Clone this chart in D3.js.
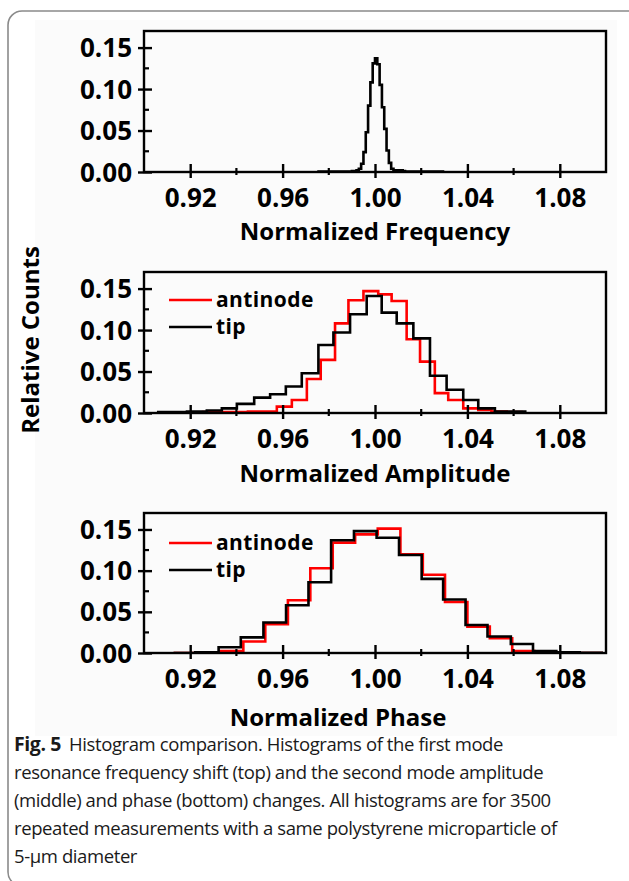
<!DOCTYPE html>
<html>
<head>
<meta charset="utf-8">
<script src="https://cdn.jsdelivr.net/npm/d3@7"></script>
<style>
  body { margin: 0; background: #fff; }
  svg { display: block; }
</style>
</head>
<body>
<div id="chart-area"></div>
<script>
// tick labels
const xTicks = [0.92, 0.96, 1.00, 1.04, 1.08]
const xMinor = [0.94, 0.98, 1.02, 1.06]
const yTicks = [0.00, 0.05, 0.10, 0.15]
const yMinor = [0.025, 0.075, 0.125]

// frequency histogram (first mode), bin edges + relative counts
const freqEdges = [0.975, 0.990, 0.991, 0.992, 0.993, 0.994, 0.995, 0.996, 0.997, 0.998, 0.999, 1.000,
  1.001, 1.002, 1.003, 1.004, 1.005, 1.006, 1.007, 1.008, 1.009, 1.010, 1.011, 1.012, 1.013, 1.030]
const freqCounts = [0.0005, 0.001, 0.001, 0.002, 0.004, 0.010, 0.024, 0.048, 0.080, 0.108, 0.131, 0.137,
  0.130, 0.105, 0.078, 0.052, 0.026, 0.011, 0.004, 0.002, 0.002, 0.001, 0.002, 0.001, 0.0005]

// amplitude histograms (second mode)
const ampAntinodeEdges = [0.925, 0.945, 0.9575, 0.964, 0.9705, 0.9765, 0.9827, 0.9885, 0.995, 1.0014, 1.0072,
  1.0137, 1.0195, 1.0259, 1.0317, 1.0382, 1.0447, 1.0504, 1.057, 1.064]
const ampAntinode = [0.001, 0.0016, 0.0077, 0.0157, 0.041, 0.064, 0.108, 0.136, 0.147, 0.143, 0.135,
  0.089, 0.062, 0.024, 0.0157, 0.0056, 0.0036, 0.0016, 0.001]
const ampTipEdges = [0.9056, 0.9186, 0.9272, 0.9337, 0.9402, 0.9477, 0.9546, 0.9614, 0.9683, 0.9755, 0.982,
  0.9892, 0.9964, 1.0029, 1.0094, 1.0166, 1.0238, 1.031, 1.0382, 1.0447, 1.0519, 1.0656]
const ampTip = [0.001, 0.0016, 0.003, 0.0056, 0.011, 0.0185, 0.0226, 0.032, 0.048, 0.082, 0.097,
  0.119, 0.141, 0.121, 0.108, 0.090, 0.045, 0.028, 0.0157, 0.0056, 0.0016]

// phase histograms (second mode)
const phaseAntinodeEdges = [0.9128, 0.9229, 0.933, 0.943, 0.9525, 0.9623, 0.972, 0.9817, 0.9914, 1.0012,
  1.011, 1.0207, 1.0303, 1.04, 1.0497, 1.0594, 1.069, 1.0787, 1.0987]
const phaseAntinode = [0.0, 0.0008, 0.0025, 0.014, 0.035, 0.064, 0.103, 0.134, 0.144, 0.151,
  0.120, 0.095, 0.062, 0.032, 0.018, 0.0025, 0.0008, 0.0]
const phaseTipEdges = [0.9128, 0.9222, 0.9323, 0.9419, 0.9517, 0.9615, 0.9712, 0.981, 0.9909, 1.0007,
  1.0104, 1.0202, 1.0295, 1.0392, 1.0487, 1.0588, 1.0684, 1.0785, 1.0886, 1.0987]
const phaseTip = [0.0, 0.001, 0.007, 0.019, 0.037, 0.058, 0.086, 0.137, 0.148, 0.140,
  0.119, 0.090, 0.065, 0.034, 0.020, 0.011, 0.0025, 0.001, 0.0003]

const legendNames = ["antinode", "tip"]
const captionLines = [
  "resonance frequency shift (top) and the second mode amplitude",
  "(middle) and phase (bottom) changes. All histograms are for 3500",
  "repeated measurements with a same polystyrene microparticle of",
  "5-\u00b5m diameter"
]

const svgWidth = 629
const svgHeight = 881
const font = "'Open Sans', 'DejaVu Sans', sans-serif"
const red = "#ff0000"

const svg = d3.select("#chart-area")
  .append("svg")
  .attr("width", svgWidth)
  .attr("height", svgHeight)

// outer rounded frame + faint figure background
svg.append("rect")
  .attr("x", 35).attr("y", 20).attr("width", 582).attr("height", 716)
  .attr("fill", "#fbfbfb")
svg.append("rect")
  .attr("x", 8).attr("y", 11).attr("width", 660).attr("height", 875)
  .attr("rx", 14).attr("fill", "none")
  .attr("stroke", "#8a8a8a").attr("stroke-width", 1.6)

const panels = [
  { top: 31, bottom: 172, title: "Normalized Frequency", titleX: 375, titleY: 240,
    series: [{ edges: freqEdges, vals: freqCounts, color: "#000" }], legend: false },
  { top: 272, bottom: 413, title: "Normalized Amplitude", titleX: 375, titleY: 482,
    series: [{ edges: ampAntinodeEdges, vals: ampAntinode, color: red },
             { edges: ampTipEdges, vals: ampTip, color: "#000" }], legend: true, legendY: 300 },
  { top: 513, bottom: 653, title: "Normalized Phase", titleX: 338, titleY: 726,
    series: [{ edges: phaseAntinodeEdges, vals: phaseAntinode, color: red },
             { edges: phaseTipEdges, vals: phaseTip, color: "#000" }], legend: true, legendY: 543 }
]

const left = 144
const right = 606

panels.forEach((p, pi) => {
  const xScale = d3.scaleLinear().domain([0.90, 1.10]).range([left, right])
  const yScale = d3.scaleLinear().domain([0, 0.17]).range([p.bottom, p.top])

  const g = svg.append("g")

  g.append("clipPath").attr("id", "clip" + pi)
    .append("rect")
    .attr("x", left).attr("y", p.top)
    .attr("width", right - left).attr("height", p.bottom - p.top)

  const line = d3.line()
    .x(d => xScale(d[0]))
    .y(d => yScale(d[1]))
    .curve(d3.curveStepAfter)

  p.series.forEach(s => {
    const pts = s.edges.map((e, i) => [e, s.vals[Math.min(i, s.vals.length - 1)]])
    g.append("path")
      .attr("clip-path", `url(#clip${pi})`)
      .attr("d", line(pts))
      .attr("fill", "none")
      .attr("stroke", s.color)
      .attr("stroke-width", 2.6)
      .attr("stroke-linejoin", "miter")
  })

  // box
  g.append("rect")
    .attr("x", left).attr("y", p.top)
    .attr("width", right - left).attr("height", p.bottom - p.top)
    .attr("fill", "none").attr("stroke", "#000").attr("stroke-width", 2.4)

  // x axis
  const xAxis = g.append("g")
    .attr("transform", `translate(0,${p.bottom})`)
    .call(d3.axisBottom(xScale).tickValues(xTicks).tickFormat(d3.format(".2f")))
  xAxis.select(".domain").remove()
  xAxis.selectAll(".tick line").attr("y1", -8).attr("y2", 6).attr("stroke-width", 2.4)
  xAxis.selectAll(".tick text")
    .attr("y", 26).attr("dy", "0.35em")
    .attr("font-family", font).attr("font-weight", 700).attr("font-size", 26).attr("fill", "#000")
  g.append("g").selectAll("line")
    .data(xMinor).join("line")
    .attr("x1", d => xScale(d)).attr("x2", d => xScale(d))
    .attr("y1", p.bottom - 4).attr("y2", p.bottom + 3)
    .attr("stroke", "#000").attr("stroke-width", 2.2)

  // y axis
  const yAxis = g.append("g")
    .attr("transform", `translate(${left},0)`)
    .call(d3.axisLeft(yScale).tickValues(yTicks).tickFormat(d3.format(".2f")))
  yAxis.select(".domain").remove()
  yAxis.selectAll(".tick line").attr("x1", -6).attr("x2", 8).attr("stroke-width", 2.4)
  yAxis.selectAll(".tick text")
    .attr("x", -12).attr("dy", "0.35em")
    .attr("font-family", font).attr("font-weight", 700).attr("font-size", 26).attr("fill", "#000")
  g.append("g").selectAll("line")
    .data(yMinor).join("line")
    .attr("x1", left - 1).attr("x2", left + 5)
    .attr("y1", d => yScale(d)).attr("y2", d => yScale(d))
    .attr("stroke", "#000").attr("stroke-width", 2.2)

  // axis title
  g.append("text")
    .attr("x", p.titleX).attr("y", p.titleY)
    .attr("text-anchor", "middle")
    .attr("font-family", font).attr("font-weight", 700).attr("font-size", 24)
    .text(p.title)

  // legend
  if (p.legend) {
    const lg = g.append("g")
    p.series.forEach((s, i) => {
      const y = p.legendY + i * 27
      lg.append("line")
        .attr("x1", 169).attr("x2", 212).attr("y1", y).attr("y2", y)
        .attr("stroke", s.color).attr("stroke-width", 2.6)
      lg.append("text")
        .attr("x", 216).attr("y", y).attr("dy", "0.32em")
        .attr("font-family", font).attr("font-weight", 700).attr("font-size", 21)
        .attr("letter-spacing", 0.4)
        .text(legendNames[i])
    })
  }
})

// shared y title
svg.append("text")
  .attr("transform", "translate(39,340) rotate(-90)")
  .attr("text-anchor", "middle")
  .attr("font-family", font).attr("font-weight", 700).attr("font-size", 24)
  .text("Relative Counts")

// caption
const cap = svg.append("g")
  .attr("font-family", font).attr("font-size", 18.5).attr("letter-spacing", -0.4).attr("fill", "#1a1a1a")
const first = cap.append("text").attr("x", 14).attr("y", 751)
first.append("tspan").attr("font-weight", 700).attr("font-size", 19.5).text("Fig. 5")
first.append("tspan").attr("dx", 8).text("Histogram comparison. Histograms of the first mode")
captionLines.forEach((t, i) => {
  cap.append("text").attr("x", 14).attr("y", 779 + i * 28).text(t)
})
</script>
</body>
</html>
